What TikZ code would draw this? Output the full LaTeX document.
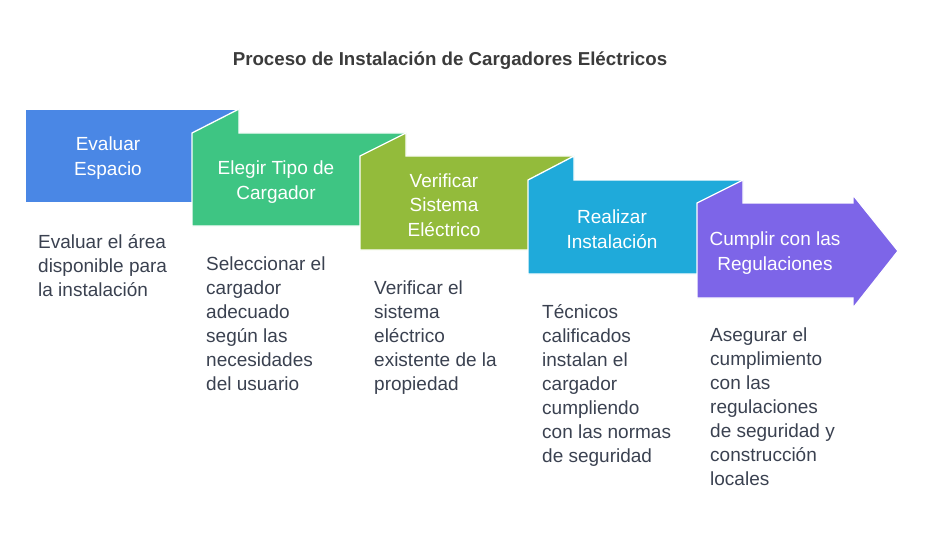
\documentclass[tikz,border=0pt]{standalone}
\usepackage{fontspec}
\setmainfont{Liberation Sans}
\usetikzlibrary{positioning}
\definecolor{evalblue}{RGB}{74,135,229}
\definecolor{choosegreen}{RGB}{62,197,131}
\definecolor{checklime}{RGB}{147,187,59}
\definecolor{installcyan}{RGB}{31,170,218}
\definecolor{rulepurple}{RGB}{125,101,232}
\definecolor{notegray}{RGB}{58,65,80}
\definecolor{titlegray}{RGB}{59,59,59}

\begin{document}
\begin{tikzpicture}[x=1pt,y=-1pt,
    stepshape/.style={draw=white,line width=1.3pt,line join=miter},
    steptitle/.style={text=white,align=center,inner sep=0pt,
        font=\fontsize{19}{24.5}\selectfont},
    stepnote/.style={text=notegray,align=left,anchor=north west,inner sep=0pt,
        font=\fontsize{19}{24}\selectfont}]
    \useasboundingbox (0,0) rectangle (925,540);
    \node[text=titlegray,font=\bfseries\fontsize{18.7}{22}\selectfont] (title)
        at (450,61) {Proceso de Instalación de Cargadores Eléctricos};

    % steps, each one folded over the one before
    \filldraw[stepshape,fill=evalblue] (25,109) rectangle (239,203);
    \filldraw[stepshape,fill=choosegreen] (192,133) -- ++(47,-24) -- ++(0,24)
        -- (406,133) -- (406,226) -- (192,226) -- cycle;
    \filldraw[stepshape,fill=checklime] (360,156) -- ++(46,-23) -- ++(0,23)
        -- (574,156) -- (574,250) -- (360,250) -- cycle;
    \filldraw[stepshape,fill=installcyan] (528,180) -- ++(46,-24) -- ++(0,24)
        -- (743,180) -- (743,274) -- (528,274) -- cycle;
    \filldraw[stepshape,fill=rulepurple] (697,203) -- ++(46,-23) -- ++(0,23)
        -- (853,203) -- (853,195) -- (898,251) -- (853,308) -- (853,298)
        -- (697,298) -- cycle;

    \node[steptitle] (evaluar) at (108,158) {Evaluar\\Espacio};
    \node[steptitle] (elegir) at (276,182) {Elegir Tipo de\\Cargador};
    \node[steptitle] (verificar) at (444,205) {Verificar\\Sistema\\Eléctrico};
    \node[steptitle] (realizar) at (612,229) {Realizar\\Instalación};
    \node[steptitle] (cumplir) at (775,253) {Cumplir con las\\Regulaciones};

    % descriptions under the steps
    \node[stepnote] (evaluarnote) at (38,234)
        {Evaluar el área\\disponible para\\la instalación};
    \node[stepnote] (elegirnote) at (206,257)
        {Seleccionar el\\cargador\\adecuado\\según las\\necesidades\\del usuario};
    \node[stepnote] (verificarnote) at (374,281)
        {Verificar el\\sistema\\eléctrico\\existente de la\\propiedad};
    \node[stepnote] (realizarnote) at (542,304)
        {Técnicos\\calificados\\instalan el\\cargador\\cumpliendo\\con las normas\\de seguridad};
    \node[stepnote] (cumplirnote) at (710,328)
        {Asegurar el\\cumplimiento\\con las\\regulaciones\\de seguridad y\\construcción\\locales};
\end{tikzpicture}
\end{document}
